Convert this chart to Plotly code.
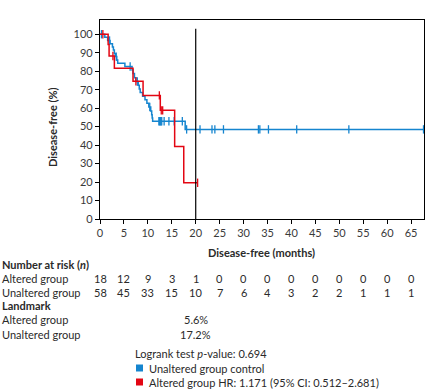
import plotly.graph_objects as go

# ---------------- data ----------------
alt_times = [0, 1.7, 1.9, 3.0, 6.9, 9.0, 12.6, 15.6, 17.5, 20.4]
alt_surv = [100, 94.4, 88.2, 81.6, 74.5, 66.9, 58.8, 39.2, 19.6, 19.6]
alt_censor = [0.6, 2.7, 7.5, 12.4, 12.8, 13.1, 20.4]

un_times = [0, 1.0, 1.6, 2.1, 2.6, 2.8, 3.0, 3.2, 3.5, 3.7, 5.2, 6.7, 6.9, 7.2, 7.5,
            8.0, 8.2, 8.4, 8.9, 9.4, 9.8, 10.2, 10.6, 10.8, 10.9, 11.0, 17.8, 67.7]
un_surv = [100, 98.3, 96.6, 94.8, 93.1, 91.4, 89.6, 87.9, 86.0, 84.3, 82.5, 80.7, 78.8,
           76.5, 74.4, 72.4, 70.4, 68.5, 66.5, 64.5, 62.6, 60.6, 58.5, 56.4, 54.6, 52.9,
           48.5, 48.5]
un_censor = [0.3, 2.0, 3.4, 6.3, 7.8, 10.4, 12.3, 12.45, 12.6, 12.75, 12.9, 13.4, 14.4,
             15.5, 17.2, 18.1, 20.9, 23.4, 24.0, 25.8, 33.1, 33.4, 35.2, 41.1, 52.0, 67.6]

risk_times = [0, 5, 10, 15, 20, 25, 30, 35, 40, 45, 50, 55, 60, 65]
risk_altered = [18, 12, 9, 3, 1, 0, 0, 0, 0, 0, 0, 0, 0, 0]
risk_unaltered = [58, 45, 33, 15, 10, 7, 6, 4, 3, 2, 2, 1, 1, 1]

landmark_time = 20
landmark_altered = "5.6%"
landmark_unaltered = "17.2%"

logrank_text = "Logrank test <i>p</i>-value: 0.694"
legend_unaltered = "Unaltered group control"
legend_altered = "Altered group HR: 1.171 (95% CI: 0.512–2.681)"

BLUE = "#1585cf"
RED = "#e30613"
FONT = "Lato"
TXT = "#2a2a2a"


def surv_at(times, surv, t):
    v = surv[0]
    for ti, si in zip(times, surv):
        if ti <= t:
            v = si
    return v


# ---------------- figure ----------------
W, H = 429, 389
L, R, T, B = 100, 5, 20, 170
PW, PH = W - L - R, H - T - B


def px(x):
    return (x - L) / PW


def py(y):
    return (H - B - y) / PH


fig = go.Figure()

for times, surv, cens, col in [(un_times, un_surv, un_censor, BLUE),
                               (alt_times, alt_surv, alt_censor, RED)]:
    fig.add_trace(go.Scatter(x=times, y=surv, mode="lines",
                             line=dict(color=col, width=1.5, shape="hv"),
                             showlegend=False, hoverinfo="skip"))
    fig.add_trace(go.Scatter(x=cens, y=[surv_at(times, surv, c) for c in cens],
                             mode="markers",
                             marker=dict(symbol="line-ns-open", size=6, color=col,
                                         line=dict(color=col, width=1.3)),
                             showlegend=False, hoverinfo="skip", cliponaxis=False))

# landmark vertical line
fig.add_shape(type="line", xref="x", yref="y", x0=landmark_time, x1=landmark_time,
              y0=0, y1=103, line=dict(color="black", width=1.2))

anns = []
# axis titles
anns.append(dict(text="<b>Disease-free (months)</b>", xref="paper", yref="paper",
                 x=px(261), y=py(252), xanchor="center", yanchor="middle",
                 showarrow=False, font=dict(size=11, color=TXT, family=FONT)))
anns.append(dict(text="<b>Disease-free (%)</b>", xref="paper", yref="paper",
                 x=px(52), y=py(127), xanchor="center", yanchor="middle", textangle=-90,
                 showarrow=False, font=dict(size=11, color=TXT, family=FONT)))

# number at risk
anns.append(dict(text="<b>Number at risk (<i>n</i>)</b>", xref="paper", yref="paper",
                 x=px(0), y=py(264), xanchor="left", yanchor="middle",
                 showarrow=False, font=dict(size=11, color=TXT, family=FONT)))
for label, row, yy in [("Altered group", risk_altered, 278),
                       ("Unaltered group", risk_unaltered, 292)]:
    anns.append(dict(text=label, xref="paper", yref="paper", x=px(0), y=py(yy),
                     xanchor="left", yanchor="middle", showarrow=False,
                     font=dict(size=11, color=TXT, family=FONT)))
    for t, n in zip(risk_times, row):
        anns.append(dict(text=str(n), xref="x", yref="paper", x=t, y=py(yy),
                         xanchor="center", yanchor="middle", showarrow=False,
                         font=dict(size=11, color=TXT, family=FONT)))

# landmark
anns.append(dict(text="<b>Landmark</b>", xref="paper", yref="paper",
                 x=px(0), y=py(305), xanchor="left", yanchor="middle",
                 showarrow=False, font=dict(size=11, color=TXT, family=FONT)))
for label, val, yy in [("Altered group", landmark_altered, 319),
                       ("Unaltered group", landmark_unaltered, 334)]:
    anns.append(dict(text=label, xref="paper", yref="paper", x=px(0), y=py(yy),
                     xanchor="left", yanchor="middle", showarrow=False,
                     font=dict(size=11, color=TXT, family=FONT)))
    anns.append(dict(text=val, xref="x", yref="paper", x=landmark_time, y=py(yy),
                     xanchor="center", yanchor="middle", showarrow=False,
                     font=dict(size=11, color=TXT, family=FONT)))

# logrank + legend
anns.append(dict(text=logrank_text, xref="paper", yref="paper", x=px(133), y=py(353),
                 xanchor="left", yanchor="middle", showarrow=False,
                 font=dict(size=11, color=TXT, family=FONT)))
for label, col, yy in [(legend_unaltered, BLUE, 368), (legend_altered, RED, 382)]:
    fig.add_shape(type="rect", xref="paper", yref="paper",
                  x0=px(136), x1=px(143), y0=py(yy - 3.5), y1=py(yy + 3.5),
                  fillcolor=col, line=dict(width=0))
    anns.append(dict(text=label, xref="paper", yref="paper", x=px(146.5), y=py(yy),
                     xanchor="left", yanchor="middle", showarrow=False,
                     font=dict(size=11, color=TXT, family=FONT)))

fig.update_layout(
    width=W, height=H, margin=dict(l=L, r=R, t=T, b=B),
    paper_bgcolor="white", plot_bgcolor="white",
    font=dict(family=FONT, size=11, color=TXT),
    annotations=anns, showlegend=False,
    xaxis=dict(range=[0, 67.7], tickmode="array", tickvals=risk_times,
               showgrid=False, zeroline=False, showline=True, mirror=True,
               linecolor="black", linewidth=1.2, ticks="outside", ticklen=4,
               tickcolor="black", tickwidth=1, tickfont=dict(size=11, color="#3a3a3a")),
    yaxis=dict(range=[0, 107.7], tickmode="array", tickvals=list(range(0, 101, 10)),
               showgrid=False, zeroline=False, showline=True, mirror=True,
               linecolor="black", linewidth=1.2, ticks="outside", ticklen=4,
               tickcolor="black", tickwidth=1, tickfont=dict(size=11, color="#3a3a3a")),
)

fig.write_html("out.html", config={"displayModeBar": False})

# remove the browser's default page margin so the figure sits at the window origin
with open("out.html", encoding="utf-8") as f:
    html = f.read()
html = html.replace("<head>", "<head><style>html,body{margin:0;padding:0;overflow:hidden;}</style>", 1)
with open("out.html", "w", encoding="utf-8") as f:
    f.write(html)
